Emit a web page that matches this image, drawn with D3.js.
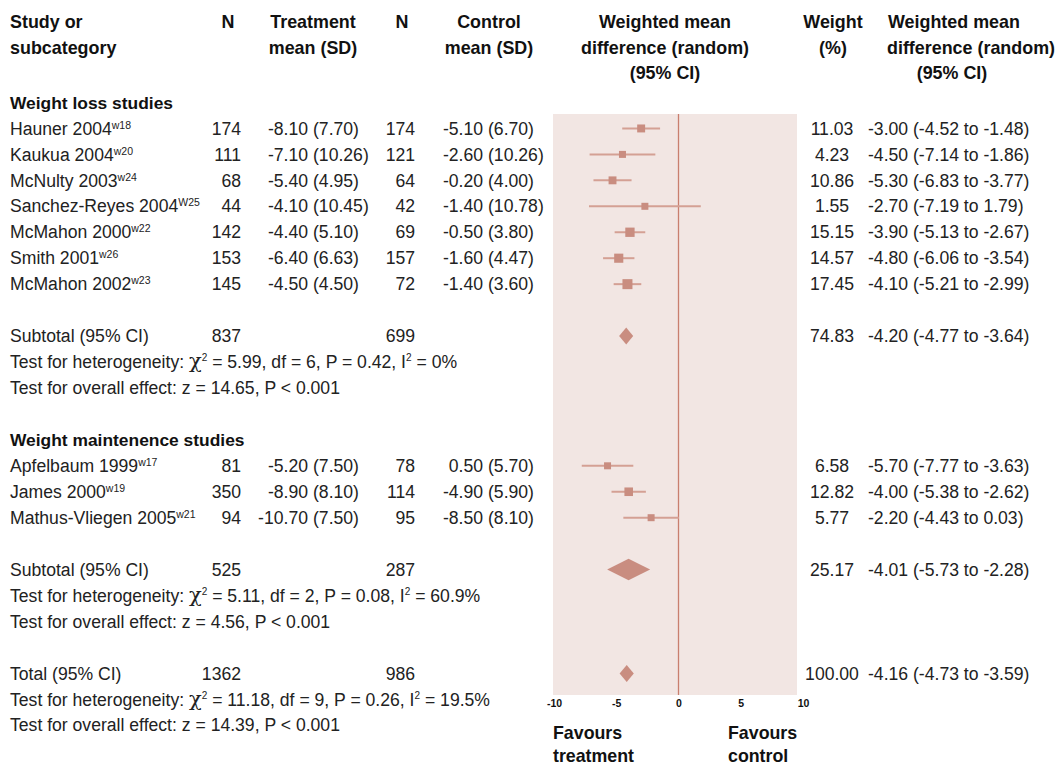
<!DOCTYPE html>
<html>
<head>
<meta charset="utf-8">
<script src="https://cdnjs.cloudflare.com/ajax/libs/d3/7.8.5/d3.min.js"></script>
<style>
  body { margin: 0; background: #fff; }
  svg { display: block; }
  .txt { font-family: "Liberation Sans", Arial, sans-serif; font-size: 17.6px; fill: #222; }
  .hdr { font-family: "Liberation Sans", Arial, sans-serif; font-size: 17.9px; font-weight: bold; fill: #111; }
  .grp { font-family: "Liberation Sans", Arial, sans-serif; font-size: 17.4px; font-weight: bold; fill: #111; }
  .fav { font-family: "Liberation Sans", Arial, sans-serif; font-size: 17.8px; font-weight: bold; fill: #111; }
  .tick text { font-family: "Liberation Sans", Arial, sans-serif; font-size: 10.5px; font-weight: bold; fill: #111; }
</style>
</head>
<body>
<script>
// study rows
const GROUP_NAMES = ['Weight loss studies', 'Weight maintenence studies'];
const STUDY_GROUP = [0, 0, 0, 0, 0, 0, 0, 1, 1, 1];
const STUDY_NAMES = ['Hauner 2004', 'Kaukua 2004', 'McNulty 2003', 'Sanchez-Reyes 2004', 'McMahon 2000',
  'Smith 2001', 'McMahon 2002', 'Apfelbaum 1999', 'James 2000', 'Mathus-Vliegen 2005'];
const STUDY_REFS = ['w18', 'w20', 'w24', 'W25', 'w22', 'w26', 'w23', 'w17', 'w19', 'w21'];
const N_TREAT = [174, 111, 68, 44, 142, 153, 145, 81, 350, 94];
const MEAN_TREAT = [-8.10, -7.10, -5.40, -4.10, -4.40, -6.40, -4.50, -5.20, -8.90, -10.70];
const SD_TREAT = [7.70, 10.26, 4.95, 10.45, 5.10, 6.63, 4.50, 7.50, 8.10, 7.50];
const N_CTRL = [174, 121, 64, 42, 69, 157, 72, 78, 114, 95];
const MEAN_CTRL = [-5.10, -2.60, -0.20, -1.40, -0.50, -1.60, -1.40, 0.50, -4.90, -8.50];
const SD_CTRL = [6.70, 10.26, 4.00, 10.78, 3.80, 4.47, 3.60, 5.70, 5.90, 8.10];
const WEIGHT = [11.03, 4.23, 10.86, 1.55, 15.15, 14.57, 17.45, 6.58, 12.82, 5.77];
const WMD = [-3.00, -4.50, -5.30, -2.70, -3.90, -4.80, -4.10, -5.70, -4.00, -2.20];
const CI_LO = [-4.52, -7.14, -6.83, -7.19, -5.13, -6.06, -5.21, -7.77, -5.38, -4.43];
const CI_HI = [-1.48, -1.86, -3.77, 1.79, -2.67, -3.54, -2.99, -3.63, -2.62, 0.03];

// subtotals (two groups) and total
const SUB_LABELS = ['Subtotal (95% CI)', 'Subtotal (95% CI)', 'Total (95% CI)'];
const SUB_N_TREAT = [837, 525, 1362];
const SUB_N_CTRL = [699, 287, 986];
const SUB_WEIGHT = [74.83, 25.17, 100.00];
const SUB_WMD = [-4.20, -4.01, -4.16];
const SUB_LO = [-4.77, -5.73, -4.73];
const SUB_HI = [-3.64, -2.28, -3.59];
const HET_CHI = ['5.99', '5.11', '11.18'];
const HET_DF = [6, 2, 9];
const HET_P = ['0.42', '0.08', '0.26'];
const HET_I2 = ['0%', '60.9%', '19.5%'];
const Z_VAL = ['14.65', '4.56', '14.39'];

const AXIS_TICKS = [-10, -5, 0, 5, 10];

const W = 1057, H = 766;
const PANEL = {LEFT: 553, RIGHT: 797, TOP: 114, BOTTOM: 695};
const COL = {study: 10, n1: 241, tMean: 308, tSd: 313, n2: 415, cMean: 483, cSd: 488, weight: 832, ci: 868};
const PINK = '#f2e6e3', MARK = '#c98d80', LINE = '#d4a094', ZERO = '#c97f6e';

const svg = d3.select('body').append('svg')
  .attr('width', W)
  .attr('height', H);

const x = d3.scaleLinear().domain([-10, 10]).range([554, 803]);
const rowY = d3.scaleLinear().domain([0, 24]).range([102.5, 725.3]);
const f2 = d3.format('.2f');
const fmt = v => f2(v).replace('−', '-');

// work out which row everything lands on
const studyRow = [], subRow = [], headRow = [];
let row = 0;
GROUP_NAMES.forEach((g, gi) => {
  headRow.push(row++);
  STUDY_GROUP.forEach((sg, i) => { if (sg === gi) studyRow[i] = row++; });
  row++;
  subRow.push(row);
  row += 4;
});
subRow.push(row);

// panel background + zero line
svg.append('rect')
  .attr('x', PANEL.LEFT)
  .attr('y', PANEL.TOP)
  .attr('width', PANEL.RIGHT - PANEL.LEFT)
  .attr('height', PANEL.BOTTOM - PANEL.TOP)
  .attr('fill', PINK);

svg.append('line')
  .attr('x1', x(0)).attr('x2', x(0))
  .attr('y1', PANEL.TOP).attr('y2', PANEL.BOTTOM)
  .attr('stroke', ZERO)
  .attr('stroke-width', 1.3);

// column headers
const headers = [
  {lines: ['Study or', 'subcategory'], x: COL.study, anchor: 'start'},
  {lines: ['N'], x: 228, anchor: 'middle'},
  {lines: ['Treatment', 'mean (SD)'], x: 313, anchor: 'middle'},
  {lines: ['N'], x: 402, anchor: 'middle'},
  {lines: ['Control', 'mean (SD)'], x: 489, anchor: 'middle'},
  {lines: ['Weighted mean', 'difference (random)', '(95% CI)'], x: 665, anchor: 'middle'},
  {lines: ['Weight', '(%)'], x: 833, anchor: 'middle'}
];
headers.forEach(h => {
  h.lines.forEach((l, i) => {
    svg.append('text').attr('class', 'hdr')
      .attr('x', h.x).attr('y', 22 + i * 25.5).attr('dy', '0.35em')
      .attr('text-anchor', h.anchor).text(l);
  });
});
svg.append('text').attr('class', 'hdr').attr('x', 888).attr('y', 22).attr('dy', '0.35em').text('Weighted mean');
svg.append('text').attr('class', 'hdr').attr('x', 887).attr('y', 47.5).attr('dy', '0.35em').text('difference (random)');
svg.append('text').attr('class', 'hdr').attr('x', 952).attr('y', 73).attr('dy', '0.35em').attr('text-anchor', 'middle').text('(95% CI)');

// group headings
GROUP_NAMES.forEach((g, gi) => {
  svg.append('text').attr('class', 'grp')
    .attr('x', COL.study).attr('y', rowY(headRow[gi])).attr('dy', '0.35em')
    .text(g);
});

const cell = (xx, y, anchor, t) => svg.append('text').attr('class', 'txt')
  .attr('x', xx).attr('y', y).attr('dy', '0.35em')
  .attr('text-anchor', anchor).text(t);

// study rows
STUDY_NAMES.forEach((name, i) => {
  const y = rowY(studyRow[i]);
  const t = svg.append('text').attr('class', 'txt')
    .attr('x', COL.study).attr('y', y).attr('dy', '0.35em');
  t.append('tspan').text(name);
  t.append('tspan').attr('dy', -6).style('font-size', '10.5px').text(STUDY_REFS[i]);

  cell(COL.n1, y, 'end', N_TREAT[i]);
  cell(COL.tMean, y, 'end', fmt(MEAN_TREAT[i]));
  cell(COL.tSd, y, 'start', '(' + fmt(SD_TREAT[i]) + ')');
  cell(COL.n2, y, 'end', N_CTRL[i]);
  cell(COL.cMean, y, 'end', fmt(MEAN_CTRL[i]));
  cell(COL.cSd, y, 'start', '(' + fmt(SD_CTRL[i]) + ')');
  cell(COL.weight, y, 'middle', fmt(WEIGHT[i]));
  cell(COL.ci, y, 'start', fmt(WMD[i]) + ' (' + fmt(CI_LO[i]) + ' to ' + fmt(CI_HI[i]) + ')');
});

// forest marks
const boxSize = d3.scaleSqrt().domain([0, d3.max(WEIGHT)]).range([0, 10]);
const side = i => Math.max(7, boxSize(WEIGHT[i]));
const marks = svg.append('g').attr('class', 'marks');

marks.selectAll('line.ci')
  .data(WMD.map((d, i) => i))
  .enter()
  .append('line')
  .attr('class', 'ci')
  .attr('x1', i => x(CI_LO[i]))
  .attr('x2', i => x(CI_HI[i]))
  .attr('y1', i => rowY(studyRow[i]))
  .attr('y2', i => rowY(studyRow[i]))
  .attr('stroke', LINE)
  .attr('stroke-width', 2);

marks.selectAll('rect.box')
  .data(WMD.map((d, i) => i))
  .enter()
  .append('rect')
  .attr('class', 'box')
  .attr('width', side)
  .attr('height', side)
  .attr('x', i => x(WMD[i]) - side(i) / 2)
  .attr('y', i => rowY(studyRow[i]) - side(i) / 2)
  .attr('fill', MARK);

// subtotals / total
SUB_LABELS.forEach((lab, k) => {
  const r = subRow[k];
  const y = rowY(r);
  cell(COL.study, y, 'start', lab);
  cell(COL.n1, y, 'end', SUB_N_TREAT[k]);
  cell(COL.n2, y, 'end', SUB_N_CTRL[k]);
  cell(COL.weight, y, 'middle', fmt(SUB_WEIGHT[k]));
  cell(COL.ci, y, 'start', fmt(SUB_WMD[k]) + ' (' + fmt(SUB_LO[k]) + ' to ' + fmt(SUB_HI[k]) + ')');

  const w = x(SUB_HI[k]) - x(SUB_LO[k]);
  const hh = Math.max(17, Math.min(22, w * 0.5)) / 2;
  marks.append('path')
    .attr('d', `M${x(SUB_LO[k])},${y} L${x(SUB_WMD[k])},${y - hh} L${x(SUB_HI[k])},${y} L${x(SUB_WMD[k])},${y + hh} Z`)
    .attr('fill', MARK);

  // heterogeneity line
  const het = svg.append('text').attr('class', 'txt')
    .attr('x', COL.study).attr('y', rowY(r + 1)).attr('dy', '0.35em');
  het.append('tspan').text('Test for heterogeneity: ');
  het.append('tspan').style('font-family', '"DejaVu Serif", serif').style('font-size', '21px').text('χ');
  het.append('tspan').attr('dy', -7).style('font-size', '10px').text('2');
  het.append('tspan').attr('dy', 7).text(' = ' + HET_CHI[k] + ', df = ' + HET_DF[k] + ', P = ' + HET_P[k] + ', I');
  het.append('tspan').attr('dy', -7).style('font-size', '10px').text('2');
  het.append('tspan').attr('dy', 7).text(' = ' + HET_I2[k]);

  cell(COL.study, rowY(r + 2), 'start', 'Test for overall effect: z = ' + Z_VAL[k] + ', P < 0.001');
});

// axis
const axis = d3.axisBottom(x)
  .tickValues(AXIS_TICKS)
  .tickSize(0)
  .tickPadding(5)
  .tickFormat(d => String(d));

svg.append('g')
  .attr('transform', 'translate(0,' + PANEL.BOTTOM + ')')
  .call(axis)
  .call(g => g.select('.domain').remove());

[['Favours', 'treatment', 553], ['Favours', 'control', 728]].forEach(([a, b, xx]) => {
  svg.append('text').attr('class', 'fav').attr('x', xx).attr('y', 733).attr('dy', '0.35em').text(a);
  svg.append('text').attr('class', 'fav').attr('x', xx).attr('y', 756).attr('dy', '0.35em').text(b);
});
</script>
</body>
</html>
